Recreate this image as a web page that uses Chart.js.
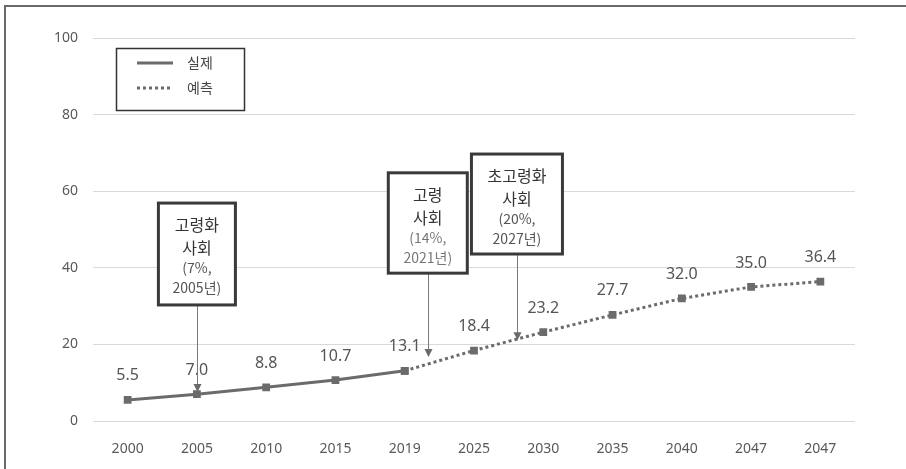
<!DOCTYPE html>
<html>
<head>
<meta charset="utf-8">
<script src="https://cdn.jsdelivr.net/npm/chart.js@4.4.0/dist/chart.umd.min.js"></script>
<style>
  html, body { margin: 0; padding: 0; background: #fff; overflow: hidden; }
  #wrap { position: relative; width: 906px; height: 469px; }
  #frame { position: absolute; left: 4px; top: 5px; width: 1000px; height: 1000px;
           border-left: 2px solid #6a6a6a; border-top: 2px solid #6a6a6a; pointer-events: none; }
  canvas { position: absolute; left: 0; top: 0; }
</style>
</head>
<body>
<div id="wrap">
  <canvas id="c" width="906" height="469"></canvas>
  <div id="frame"></div>
</div>
<script>
const categories = ['2000','2005','2010','2015','2019','2025','2030','2035','2040','2047','2047'];
const actualValues = [5.5, 7.0, 8.8, 10.7, 13.1, null, null, null, null, null, null];
const forecastValues = [null, null, null, null, 13.1, 18.4, 23.2, 27.7, 32.0, 35.0, 36.4];
const yTicks = [0, 20, 40, 60, 80, 100];
const legendLabels = ['실제', '예측'];

const annotationTexts = [
  ['고령화', '사회', '(7%,', '2005년)'],
  ['고령', '사회', '(14%,', '2021년)'],
  ['초고령화', '사회', '(20%,', '2027년)']
];
const annotationAt = [1, 4.333, 5.62];       // category position of the arrow
const annotationTopVal = [56.9, 64.8, 69.7];  // box top (value units)
const annotationBotVal = [30.3, 38.6, 43.6];  // box bottom (value units)
const annotationTipVal = [7.6, 16.7, 21.1];   // arrow tip (value units)
const annotationWidths = [77, 79, 91];

const LINE = '#6b6b6b';
const FONT = "'Noto Sans', 'Noto Sans CJK KR', sans-serif";
const KFONT = "'Noto Sans CJK KR', 'Noto Sans', sans-serif";

const overlay = {
  id: 'overlay',
  afterDatasetsDraw(chart) {
    const ctx = chart.ctx;
    const xs = chart.scales.x, ys = chart.scales.y;
    ctx.save();
    // data labels
    ctx.font = '16px ' + FONT;
    ctx.fillStyle = '#555';
    ctx.textAlign = 'center';
    ctx.textBaseline = 'middle';
    const drawn = new Set();
    chart.data.datasets.forEach((ds, di) => {
      const meta = chart.getDatasetMeta(di);
      ds.data.forEach((v, i) => {
        if (v === null || drawn.has(i)) return;
        drawn.add(i);
        const p = meta.data[i];
        ctx.fillText(v.toFixed(1), p.x, p.y - 24);
      });
    });

    // annotations
    annotationTexts.forEach((lines, k) => {
      const cx = xs.getPixelForValue(annotationAt[k]);
      const top = ys.getPixelForValue(annotationTopVal[k]);
      const bot = ys.getPixelForValue(annotationBotVal[k]);
      const tip = ys.getPixelForValue(annotationTipVal[k]);
      const w = annotationWidths[k];
      const ax = Math.round(cx) + 0.5;
      // arrow
      ctx.strokeStyle = '#7a7a7a';
      ctx.lineWidth = 1;
      ctx.beginPath();
      ctx.moveTo(ax, bot);
      ctx.lineTo(ax, tip - 6);
      ctx.stroke();
      ctx.fillStyle = '#6a6a6a';
      ctx.beginPath();
      ctx.moveTo(ax - 4, tip - 8);
      ctx.lineTo(ax + 4, tip - 8);
      ctx.lineTo(ax, tip);
      ctx.closePath();
      ctx.fill();
      // box
      ctx.fillStyle = '#fff';
      ctx.fillRect(cx - w / 2, top, w, bot - top);
      ctx.strokeStyle = '#3a3a3a';
      ctx.lineWidth = 3;
      ctx.strokeRect(cx - w / 2, top, w, bot - top);
      // text
      ctx.textAlign = 'center';
      ctx.textBaseline = 'middle';
      ctx.fillStyle = '#333';
      ctx.font = '16px ' + KFONT;
      ctx.fillText(lines[0], cx, top + 22);
      ctx.fillText(lines[1], cx, top + 45);
      ctx.fillStyle = k === 1 ? '#777' : '#555';
      ctx.font = '14px ' + KFONT;
      ctx.fillText(lines[2], cx, top + 65);
      ctx.fillText(lines[3], cx, top + 85);
    });

    // legend
    ctx.fillStyle = '#fff';
    ctx.fillRect(116, 48, 129, 63);
    ctx.strokeStyle = '#333';
    ctx.lineWidth = 1.5;
    ctx.strokeRect(116.5, 48.5, 128, 62);
    chart.data.datasets.forEach((ds, i) => {
      const y = 63 + i * 25;
      ctx.strokeStyle = ds.borderColor;
      ctx.lineWidth = 3;
      ctx.setLineDash(ds.borderDash || []);
      ctx.beginPath();
      ctx.moveTo(137, y);
      ctx.lineTo(173, y);
      ctx.stroke();
      ctx.setLineDash([]);
      ctx.fillStyle = '#444';
      ctx.font = '14px ' + KFONT;
      ctx.textAlign = 'left';
      ctx.textBaseline = 'middle';
      ctx.fillText(legendLabels[i], 187, y);
    });
    ctx.restore();
  }
};

new Chart(document.getElementById('c'), {
  type: 'line',
  data: {
    labels: categories,
    datasets: [
      {
        label: legendLabels[0],
        data: actualValues,
        borderColor: LINE,
        backgroundColor: LINE,
        borderWidth: 3,
        pointStyle: 'rect',
        pointRadius: 5.5,
        pointBorderWidth: 0,
        tension: 0,
        spanGaps: false
      },
      {
        label: legendLabels[1],
        data: forecastValues,
        borderColor: LINE,
        backgroundColor: LINE,
        borderWidth: 3,
        borderDash: [3, 3],
        pointStyle: 'rect',
        pointRadius: 5.5,
        pointBorderWidth: 0,
        tension: 0,
        spanGaps: false
      }
    ]
  },
  options: {
    responsive: false,
    animation: false,
    layout: { padding: { left: 0, right: 51, top: 38, bottom: 0 } },
    plugins: { legend: { display: false }, tooltip: { enabled: false } },
    scales: {
      x: {
        type: 'category',
        offset: true,
        grid: { display: false, drawTicks: false },
        border: { display: false },
        ticks: { color: '#595959', font: { family: FONT, size: 14 }, padding: 20, maxRotation: 0, autoSkip: false },
        afterFit(s) { s.height = 48; }
      },
      y: {
        min: 0, max: 100,
        afterBuildTicks(s) { s.ticks = yTicks.map(v => ({ value: v })); },
        grid: { color: '#d9d9d9', lineWidth: 1, drawTicks: false },
        border: { display: false },
        ticks: { color: '#595959', font: { family: FONT, size: 14 }, padding: 15 },
        afterFit(s) { s.width = 93; }
      }
    }
  },
  plugins: [overlay]
});
</script>
</body>
</html>
